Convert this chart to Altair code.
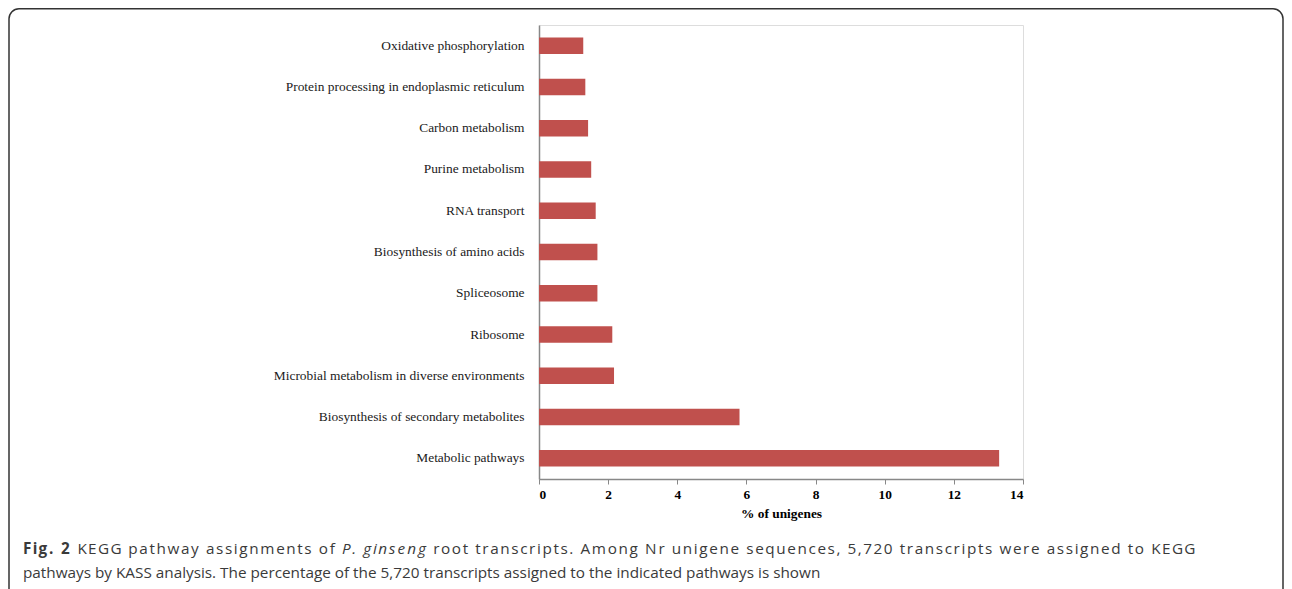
import altair as alt
import pandas as pd

pathways = [
    "Oxidative phosphorylation",
    "Protein processing in endoplasmic reticulum",
    "Carbon metabolism",
    "Purine metabolism",
    "RNA transport",
    "Biosynthesis of amino acids",
    "Spliceosome",
    "Ribosome",
    "Microbial metabolism in diverse environments",
    "Biosynthesis of secondary metabolites",
    "Metabolic pathways",
]
percent = [1.28, 1.34, 1.42, 1.51, 1.64, 1.69, 1.69, 2.12, 2.17, 5.80, 13.31]
x_ticks = [0, 2, 4, 6, 8, 10, 12, 14]

# caption line 1 (justified with letter spacing in the original), as (text, style) runs
caption_line1 = [
    ("Fig. 2", "bold"),
    (" KEGG pathway assignments of ", "normal"),
    ("P. ginseng", "italic"),
    (" root transcripts. Among Nr unigene sequences, 5,720 transcripts were assigned to KEGG", "normal"),
]
caption_line2 = "pathways by KASS analysis. The percentage of the 5,720 transcripts assigned to the indicated pathways is shown"

df = pd.DataFrame({"pathway": pathways, "percent": percent})

W, H = 484, 454
serif = "Liberation Serif"
CAP_SIZE = 15.3
CAP_COLOR = "#3a3a3a"

# approximate Open Sans advance widths (em units), only used to lay out the justified caption line
ADV = {
    " ": .26, "a": .556, "b": .613, "c": .476, "d": .613, "e": .561, "f": .339, "g": .548,
    "h": .614, "i": .253, "j": .253, "k": .525, "l": .253, "m": .930, "n": .614, "o": .604,
    "p": .613, "q": .613, "r": .408, "s": .477, "t": .353, "u": .614, "v": .501, "w": .778,
    "x": .524, "y": .502, "z": .477, ".": .266, ",": .244, "A": .633, "E": .547, "F": .496,
    "G": .701, "K": .592, "N": .762, "P": .586,
}
for d in "0123456789":
    ADV[d] = .572
STYLE_SCALE = {"normal": 1.0, "bold": 1.07, "italic": 0.96}

chars = []
for text, style in caption_line1:
    for ch in text:
        chars.append((ch, style, ADV.get(ch, .55) * CAP_SIZE * STYLE_SCALE[style]))

x_start, x_end = -516.0, 656.0
natural = sum(c[2] for c in chars)
spacing = (x_end - x_start - natural) / (len(chars) - 1)
rows = {"normal": [], "bold": [], "italic": []}
xpos = x_start
for ch, style, adv in chars:
    if ch != " ":
        rows[style].append({"ch": ch, "cx": xpos})
    xpos += adv + spacing

bars = alt.Chart(df).mark_bar(color="#C0504D").encode(
    x=alt.X(
        "percent:Q",
        scale=alt.Scale(domain=[0, 14], nice=False),
        axis=alt.Axis(
            values=x_ticks, title="% of unigenes", grid=False,
            domainColor="#888888", domainWidth=1.5,
            tickColor="#888888", tickSize=5, tickWidth=1,
            labelFont=serif, labelFontSize=13.4, labelFontWeight="bold", labelColor="#000000",
            labelPadding=3, titleFont=serif, titleFontSize=13.4, titleFontWeight="bold",
            titleColor="#000000", titlePadding=6,
        ),
    ),
    y=alt.Y(
        "pathway:N",
        sort=pathways,
        scale=alt.Scale(paddingInner=0.6, paddingOuter=0.3),
        axis=alt.Axis(
            title=None, ticks=False, domainColor="#888888", domainWidth=1.5,
            labelFont=serif, labelFontSize=13.4, labelColor="#1a1a1a", labelPadding=15,
            labelLimit=400,
        ),
    ),
)

one = alt.Data(values=[{"k": 1}])

border = alt.Chart(one).mark_rect(
    filled=False, stroke="#333333", strokeWidth=1.5, cornerRadius=10
).encode(
    x=alt.value(-530), x2=alt.value(744), y=alt.value(-16.2), y2=alt.value(620)
)

cap_style = dict(align="left", baseline="alphabetic", font="Open Sans",
                 fontSize=CAP_SIZE, color=CAP_COLOR)

layers = [bars, border]
for style, extra in [("normal", {}), ("bold", {"fontWeight": "bold"}), ("italic", {"fontStyle": "italic"})]:
    layers.append(
        alt.Chart(alt.Data(values=rows[style])).mark_text(**cap_style, **extra).encode(
            x=alt.X("cx:Q", scale=None, axis=None),
            y=alt.value(529),
            text="ch:N",
        )
    )
layers.append(
    alt.Chart(one).mark_text(**cap_style).encode(
        x=alt.value(-516), y=alt.value(553), text=alt.value(caption_line2))
)

chart = alt.layer(*layers).resolve_scale(x="independent").properties(
    width=W, height=H,
    padding={"left": 531, "top": 17, "right": 261, "bottom": 110},
    autosize=alt.AutoSizeParams(type="none"),
).configure_view(stroke="#111111", strokeWidth=1.3).configure(background="white")

chart.save("out.html", embed_options={"renderer": "svg", "actions": False})
